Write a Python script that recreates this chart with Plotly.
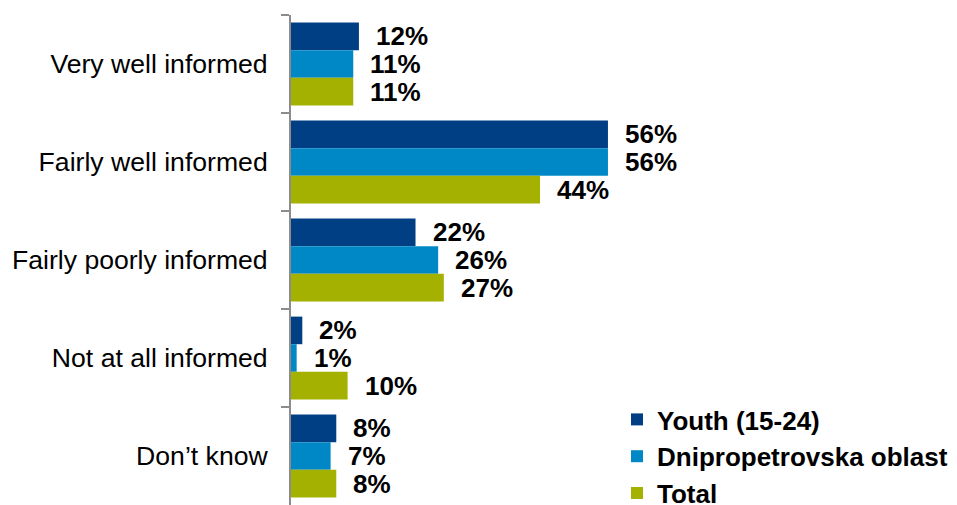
import plotly.graph_objects as go

categories = ["Very well informed", "Fairly well informed", "Fairly poorly informed",
              "Not at all informed", "Don\u2019t know"]
youth = [12, 56, 22, 2, 8]
dnipro = [11, 56, 26, 1, 7]
total = [11, 44, 27, 10, 8]

series = [
    ("Youth (15-24)", youth, "#003F84"),
    ("Dnipropetrovska oblast", dnipro, "#0088C6"),
    ("Total", total, "#A5B100"),
]

fig = go.Figure()
for i, (name, vals, color) in enumerate(series):
    fig.add_trace(go.Bar(
        y=categories, x=vals, name=name, orientation="h",
        marker=dict(color=color, line=dict(width=0)),
        legendgroup=name,
    ))

# value labels just past the end of each bar
BAR_PX = 27.6
for i, (name, vals, color) in enumerate(series):
    for cat, v in zip(categories, vals):
        fig.add_annotation(
            x=v, y=cat, text=f"<b>{v}%</b>", showarrow=False,
            xanchor="left", yanchor="middle", xshift=15,
            yshift=(1 - i) * BAR_PX,
            font=dict(family="Liberation Sans, Arial", size=26, color="#000000"),
        )

fig.update_layout(
    width=957, height=505,
    margin=dict(l=291, r=100, t=15, b=0, autoexpand=False),
    paper_bgcolor="white", plot_bgcolor="white",
    barmode="group", bargap=0.155, bargroupgap=0,
    showlegend=True,
    legend=dict(
        xref="paper", yref="paper", x=(617 - 291) / 566, y=(505 - 396) / 490,
        xanchor="left", yanchor="top", tracegroupgap=0,
        font=dict(family="Liberation Sans, Arial", size=26, color="#000000", weight="bold"),
        bgcolor="rgba(0,0,0,0)",
    ),
    xaxis=dict(range=[0, 100], visible=False, fixedrange=True),
    yaxis=dict(
        autorange="reversed", showline=True, linecolor="#8C8C8C", linewidth=2,
        ticks="outside", tickson="boundaries", ticklen=8, tickwidth=2,
        tickcolor="#8C8C8C", ticklabelstandoff=16, showgrid=False,
        tickfont=dict(family="Liberation Sans, Arial", size=26.6, color="#000000"),
    ),
)

fig.write_html("out.html")
